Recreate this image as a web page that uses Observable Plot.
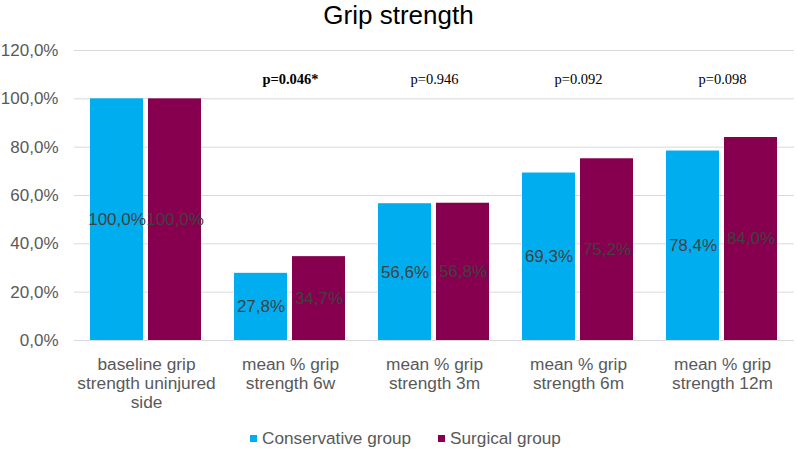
<!DOCTYPE html>
<html>
<head>
<meta charset="utf-8">
<script src="https://cdn.jsdelivr.net/npm/d3@7"></script>
<script src="https://cdn.jsdelivr.net/npm/@observablehq/plot@0.6"></script>
<style>
  html, body { margin: 0; padding: 0; background: #fff; }
  body { width: 797px; height: 450px; overflow: hidden; font-family: "Liberation Sans", Arial, sans-serif; }
  #title { height: 32px; line-height: 30px; text-align: center; font-size: 26px; color: #000; }
  #legend { display: flex; justify-content: center; align-items: center; gap: 27px; font-size: 17.2px; color: #595959; margin-left: 14px; }
  .item { display: flex; align-items: center; gap: 5px; }
  .sw { width: 7px; height: 7px; display: inline-block; }
</style>
</head>
<body>
<div id="title">Grip strength</div>
<div id="chart"></div>
<div id="legend"></div>
<script>
const categories = [
  "baseline grip strength uninjured side",
  "mean % grip strength 6w",
  "mean % grip strength 3m",
  "mean % grip strength 6m",
  "mean % grip strength 12m"
];
const tickLabels = [
  "baseline grip\nstrength uninjured\nside",
  "mean % grip\nstrength 6w",
  "mean % grip\nstrength 3m",
  "mean % grip\nstrength 6m",
  "mean % grip\nstrength 12m"
];
const groups = ["Conservative group", "Surgical group"];
const colors = ["#00AEEF", "#87004F"];
const conservative = [100.0, 27.8, 56.6, 69.3, 78.4];
const surgical = [100.0, 34.7, 56.8, 75.2, 84.0];
const pValues = ["", "p=0.046*", "p=0.946", "p=0.092", "p=0.098"];
const pBold = [false, true, false, false, false];
const yTicks = [0, 20, 40, 60, 80, 100, 120];

const rows = [];
categories.forEach((c, i) => {
  rows.push({cat: c, group: groups[0], value: conservative[i]});
  rows.push({cat: c, group: groups[1], value: surgical[i]});
});
const pRows = categories.map((c, i) => ({cat: c, p: pValues[i], bold: pBold[i]})).filter(d => d.p);

const fmt = v => v.toFixed(1).replace(".", ",") + "%";
const labelOf = new Map(categories.map((c, i) => [c, tickLabels[i]]));
const serif = "Liberation Serif, Times New Roman, serif";

const chart = Plot.plot({
  width: 797,
  height: 396,
  marginLeft: 73,
  marginRight: 2,
  marginTop: 18,
  marginBottom: 88,
  style: {fontFamily: "Liberation Sans, Arial, sans-serif"},
  fx: {domain: categories, padding: 0, label: null, axis: null},
  x: {domain: groups, paddingInner: 0.085, paddingOuter: 0.266, axis: null},
  y: {domain: [0, 120], label: null, axis: null},
  color: {domain: groups, range: colors},
  marks: [
    Plot.gridY(yTicks, {stroke: "#d9d9d9", strokeOpacity: 1}),
    Plot.axisY(yTicks, {tickSize: 0, tickPadding: 16, tickFormat: fmt, fontSize: 17, fill: "#595959", label: null}),
    Plot.axisFx({anchor: "bottom", tickSize: 0, tickPadding: 16, tickFormat: d => labelOf.get(d), fontSize: 17.3, fill: "#595959", lineHeight: 1.1, label: null}),
    Plot.barY(rows, {fx: "cat", x: "group", y: "value", fill: "group"}),
    Plot.ruleY([0], {stroke: "#d9d9d9"}),
    Plot.text(rows, {fx: "cat", x: "group", y: d => d.value / 2, text: d => fmt(d.value), fill: "#404040", fontSize: 17}),
    Plot.text(pRows.filter(d => d.bold), {fx: "cat", y: () => 108, text: "p", fontFamily: serif, fontSize: 14.5, fill: "#000", fontWeight: "bold"}),
    Plot.text(pRows.filter(d => !d.bold), {fx: "cat", y: () => 108, text: "p", fontFamily: serif, fontSize: 14.5, fill: "#000"})
  ]
});
document.getElementById("chart").appendChild(chart);

const legend = document.getElementById("legend");
groups.forEach((g, i) => {
  const item = document.createElement("div");
  item.className = "item";
  const sw = document.createElement("span");
  sw.className = "sw";
  sw.style.background = colors[i];
  const t = document.createElement("span");
  t.textContent = g;
  item.appendChild(sw);
  item.appendChild(t);
  legend.appendChild(item);
});
</script>
</body>
</html>
